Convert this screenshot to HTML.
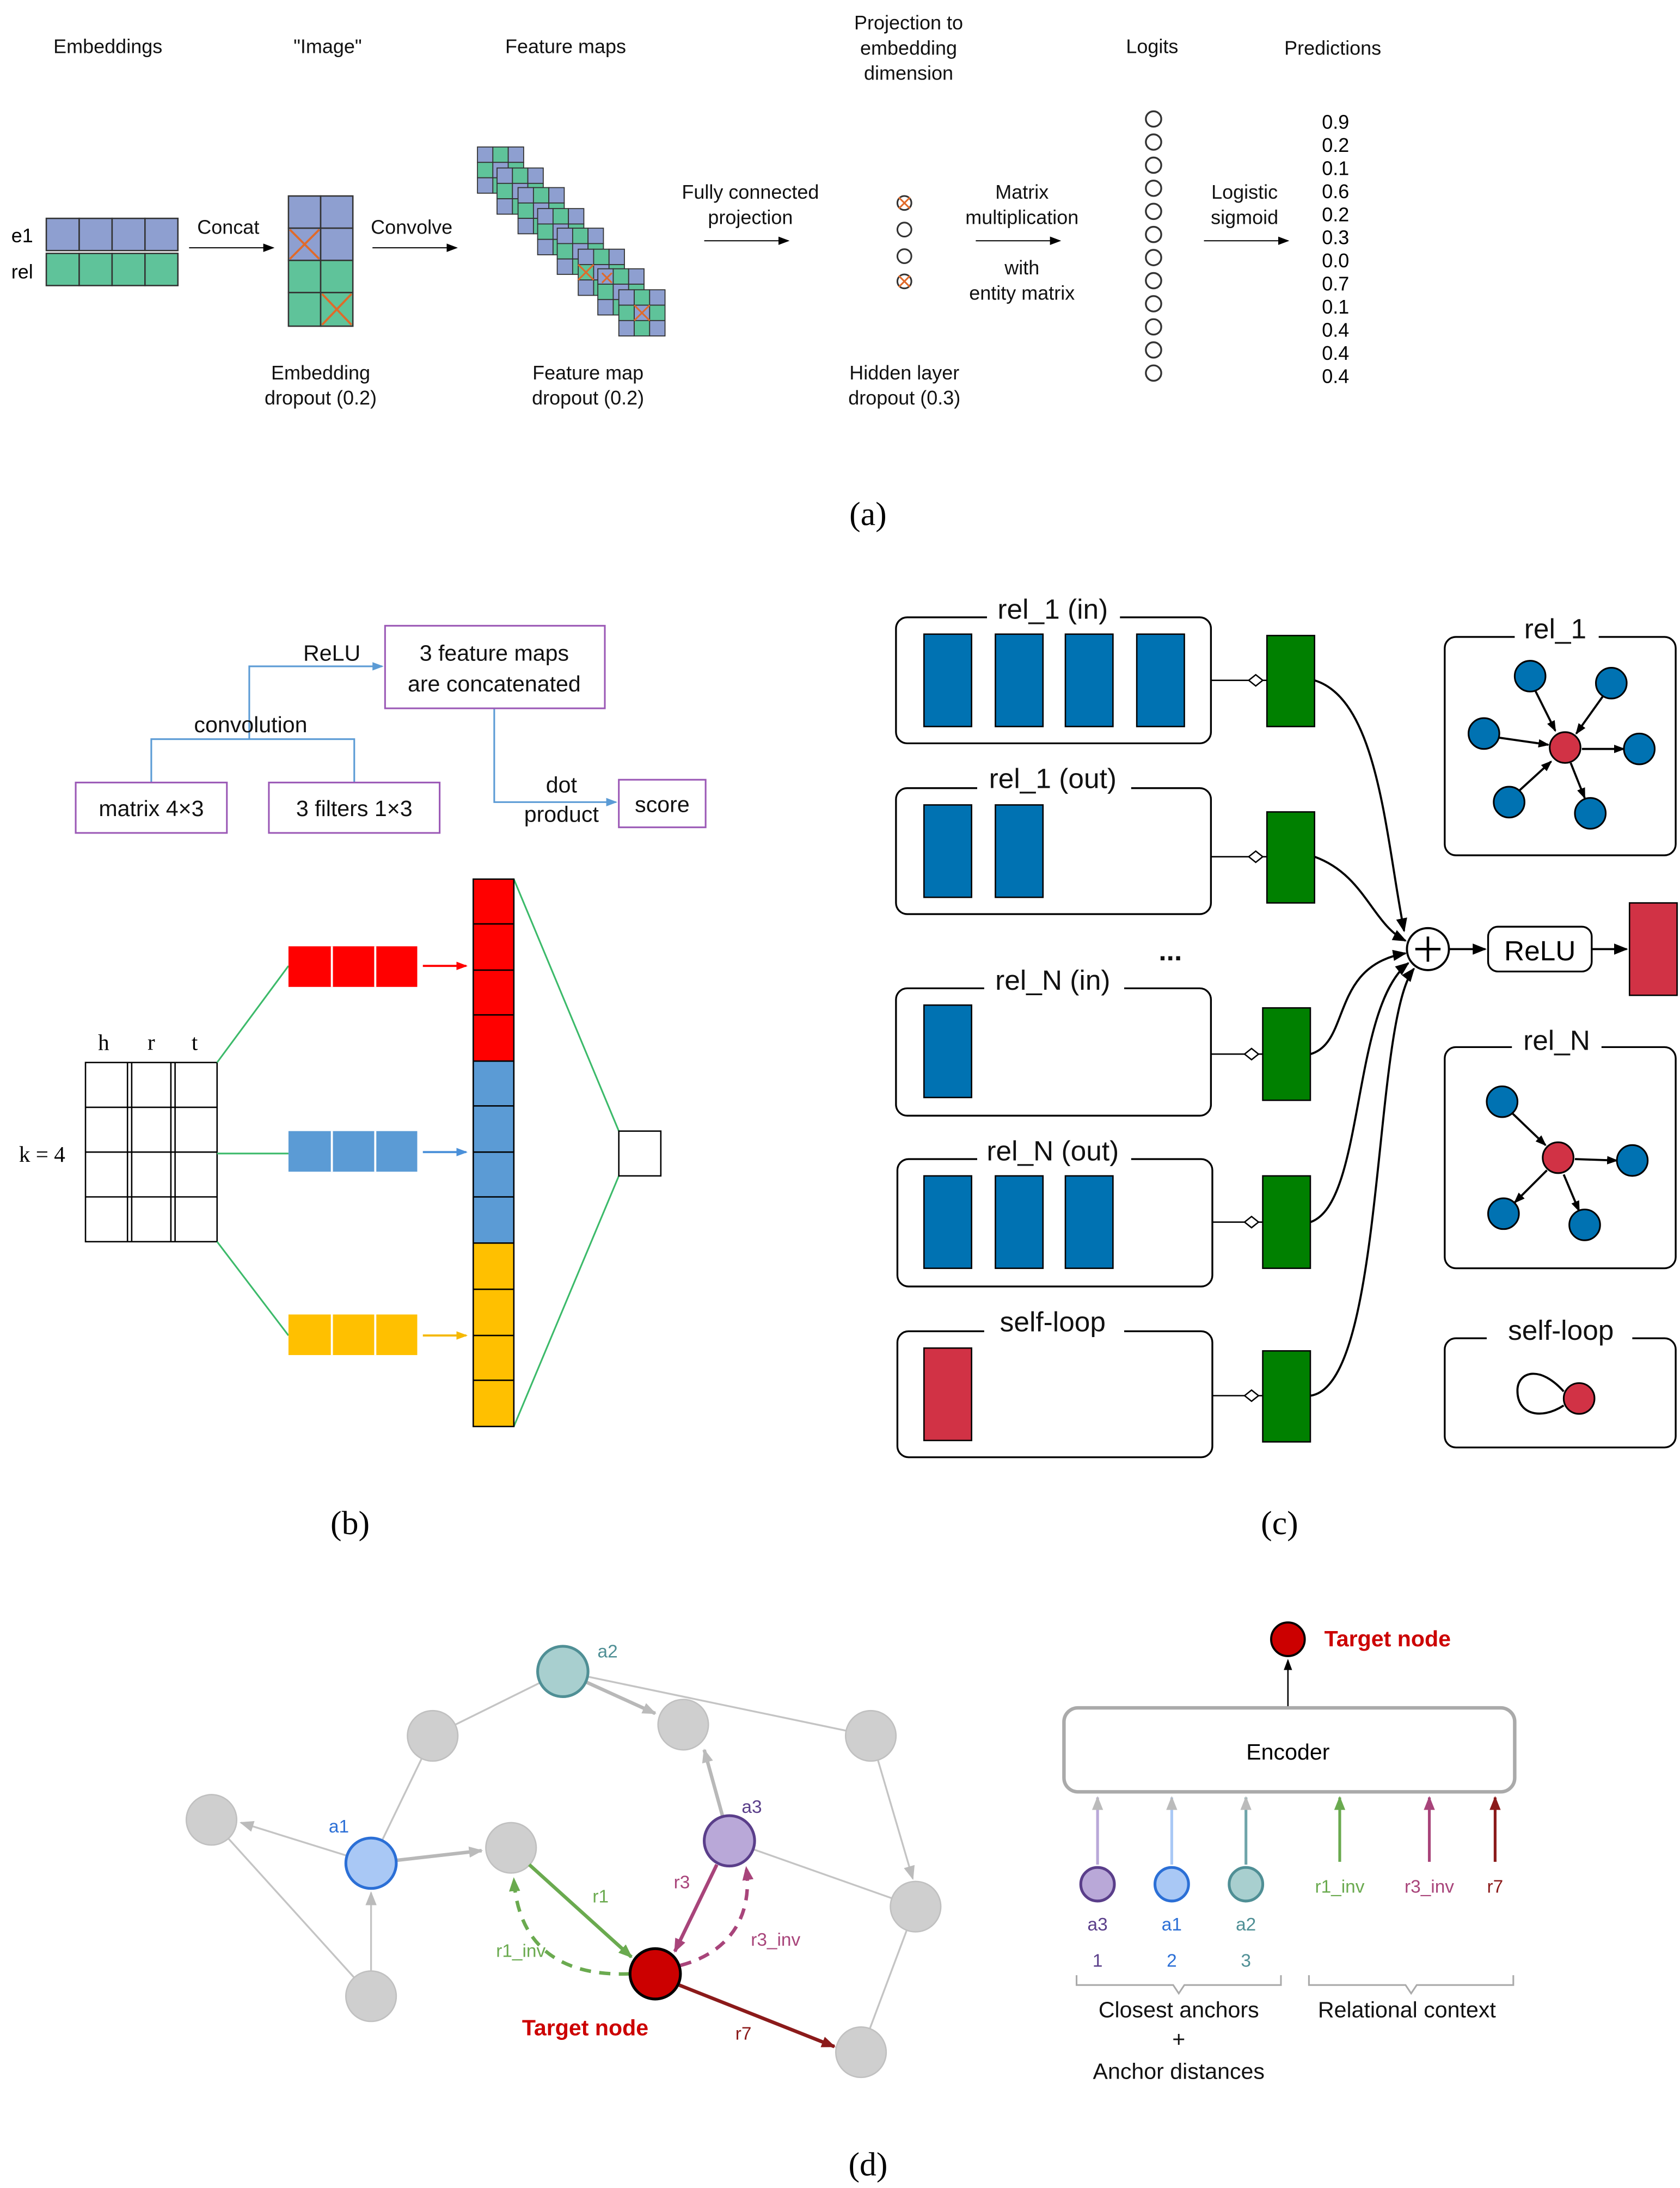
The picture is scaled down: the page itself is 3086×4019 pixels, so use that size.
<!DOCTYPE html>
<html><head><meta charset="utf-8"><style>
html,body{margin:0;padding:0;background:#fff}
svg{display:block}
text{font-family:"Liberation Sans","DejaVu Sans",sans-serif}
.s{font-family:"Liberation Serif",serif}
</style></head><body>
<svg width="3086" height="4019" viewBox="0 0 1200 1563" xmlns="http://www.w3.org/2000/svg">
<defs>
<marker id="ak" markerWidth="8" markerHeight="8" refX="7" refY="4" orient="auto" markerUnits="userSpaceOnUse"><path d="M0,1 L8,4 L0,7 z" fill="#000"/></marker>
<marker id="ab" markerWidth="10" markerHeight="10" refX="9" refY="5" orient="auto" markerUnits="userSpaceOnUse"><path d="M0,1 L10,5 L0,9 z" fill="#000"/></marker>
<marker id="abl" markerWidth="8" markerHeight="8" refX="7" refY="4" orient="auto" markerUnits="userSpaceOnUse"><path d="M0,1 L8,4 L0,7 z" fill="#5b9bd5"/></marker>
<marker id="ar" markerWidth="8" markerHeight="8" refX="7" refY="4" orient="auto" markerUnits="userSpaceOnUse"><path d="M0,1 L8,4 L0,7 z" fill="#f00"/></marker>
<marker id="abu" markerWidth="8" markerHeight="8" refX="7" refY="4" orient="auto" markerUnits="userSpaceOnUse"><path d="M0,1 L8,4 L0,7 z" fill="#4a90d9"/></marker>
<marker id="ay" markerWidth="8" markerHeight="8" refX="7" refY="4" orient="auto" markerUnits="userSpaceOnUse"><path d="M0,1 L8,4 L0,7 z" fill="#f5b800"/></marker>
<marker id="ag" markerWidth="10" markerHeight="10" refX="9" refY="5" orient="auto" markerUnits="userSpaceOnUse"><path d="M0,1 L10,5 L0,9 z" fill="#bbb"/></marker>
<marker id="agr" markerWidth="10" markerHeight="10" refX="9" refY="5" orient="auto" markerUnits="userSpaceOnUse"><path d="M0,1 L10,5 L0,9 z" fill="#6aaa4f"/></marker>
<marker id="apu" markerWidth="10" markerHeight="10" refX="9" refY="5" orient="auto" markerUnits="userSpaceOnUse"><path d="M0,1 L10,5 L0,9 z" fill="#a8447a"/></marker>
<marker id="adr" markerWidth="10" markerHeight="10" refX="9" refY="5" orient="auto" markerUnits="userSpaceOnUse"><path d="M0,1 L10,5 L0,9 z" fill="#8b1a1a"/></marker>
<g id="fm">
<rect x="0" y="0" width="11" height="11" fill="#8e9fd0" stroke="#333" stroke-width="0.7"/><rect x="11" y="0" width="11" height="11" fill="#5fc39a" stroke="#333" stroke-width="0.7"/><rect x="22" y="0" width="11" height="11" fill="#8e9fd0" stroke="#333" stroke-width="0.7"/>
<rect x="0" y="11" width="11" height="11" fill="#5fc39a" stroke="#333" stroke-width="0.7"/><rect x="11" y="11" width="11" height="11" fill="#8e9fd0" stroke="#333" stroke-width="0.7"/><rect x="22" y="11" width="11" height="11" fill="#5fc39a" stroke="#333" stroke-width="0.7"/>
<rect x="0" y="22" width="11" height="11" fill="#8e9fd0" stroke="#333" stroke-width="0.7"/><rect x="11" y="22" width="11" height="11" fill="#5fc39a" stroke="#333" stroke-width="0.7"/><rect x="22" y="22" width="11" height="11" fill="#8e9fd0" stroke="#333" stroke-width="0.7"/>
</g>
</defs>
<rect width="1200" height="1563" fill="#fff"/>

<!-- Panel a -->
<g font-size="14" fill="#111" text-anchor="middle">
<text x="77" y="38">Embeddings</text>
<text x="234" y="38">"Image"</text>
<text x="404" y="38">Feature maps</text>
<text x="649" y="21">Projection to</text><text x="649" y="39">embedding</text><text x="649" y="57">dimension</text>
<text x="823" y="38">Logits</text>
<text x="952" y="39">Predictions</text>
<text x="163" y="167">Concat</text>
<text x="294" y="167">Convolve</text>
<text x="536" y="142">Fully connected</text><text x="536" y="160">projection</text>
<text x="730" y="142">Matrix</text><text x="730" y="160">multiplication</text>
<text x="730" y="196">with</text><text x="730" y="214">entity matrix</text>
<text x="889" y="142">Logistic</text><text x="889" y="160">sigmoid</text>
<text x="229" y="271">Embedding</text><text x="229" y="289">dropout (0.2)</text>
<text x="420" y="271">Feature map</text><text x="420" y="289">dropout (0.2)</text>
<text x="646" y="271">Hidden layer</text><text x="646" y="289">dropout (0.3)</text>
</g>
<text x="8" y="173" font-size="14">e1</text>
<text x="8" y="199" font-size="14">rel</text>
<g stroke="#333" stroke-width="1">
<rect x="33" y="156" width="23.5" height="23" fill="#8e9fd0"/><rect x="56.5" y="156" width="23.5" height="23" fill="#8e9fd0"/><rect x="80" y="156" width="23.5" height="23" fill="#8e9fd0"/><rect x="103.5" y="156" width="23.5" height="23" fill="#8e9fd0"/>
<rect x="33" y="181" width="23.5" height="23" fill="#5fc39a"/><rect x="56.5" y="181" width="23.5" height="23" fill="#5fc39a"/><rect x="80" y="181" width="23.5" height="23" fill="#5fc39a"/><rect x="103.5" y="181" width="23.5" height="23" fill="#5fc39a"/>
<rect x="206" y="140" width="23" height="23" fill="#8e9fd0"/><rect x="229" y="140" width="23" height="23" fill="#8e9fd0"/>
<rect x="206" y="163" width="23" height="23" fill="#8e9fd0"/><rect x="229" y="163" width="23" height="23" fill="#8e9fd0"/>
<rect x="206" y="186" width="23" height="23" fill="#5fc39a"/><rect x="229" y="186" width="23" height="23" fill="#5fc39a"/>
<rect x="206" y="209" width="23" height="24" fill="#5fc39a"/><rect x="229" y="209" width="23" height="24" fill="#5fc39a"/>
</g>
<g stroke="#e06a2a" stroke-width="1.5"><path d="M207,164 L228,185 M228,164 L207,185"/><path d="M230,210 L251,232 M251,210 L230,232"/></g>
<g stroke="#000" stroke-width="0.8" marker-end="url(#ak)"><line x1="135" y1="177" x2="195" y2="177"/><line x1="266" y1="177" x2="326" y2="177"/><line x1="503" y1="172" x2="563" y2="172"/><line x1="697" y1="172" x2="757" y2="172"/><line x1="860" y1="172" x2="920" y2="172"/></g>
<use href="#fm" x="341" y="105"/><use href="#fm" x="355" y="120"/><use href="#fm" x="370" y="134"/><use href="#fm" x="384" y="149"/><use href="#fm" x="398" y="163"/><use href="#fm" x="413" y="178"/><use href="#fm" x="427" y="192"/><use href="#fm" x="442" y="207"/>
<g stroke="#e06a2a" stroke-width="1.2"><path d="M413,189 L424,200 M424,189 L413,200 M453,218 L464,229 M464,218 L453,229 M430,195 L437,202 M437,195 L430,202"/></g>
<g fill="#fff" stroke="#333" stroke-width="1.2">
<circle cx="646" cy="145" r="5"/><circle cx="646" cy="164" r="5"/><circle cx="646" cy="183" r="5"/><circle cx="646" cy="201" r="5"/>
</g>
<g stroke="#e06a2a" stroke-width="1.2"><path d="M642,141 L650,149 M650,141 L642,149 M642,197 L650,205 M650,197 L642,205"/></g>
<g fill="#fff" stroke="#333" stroke-width="1.3">
<circle cx="824" cy="85" r="5.5"/><circle cx="824" cy="101.5" r="5.5"/><circle cx="824" cy="118" r="5.5"/><circle cx="824" cy="134.5" r="5.5"/><circle cx="824" cy="151" r="5.5"/><circle cx="824" cy="167.5" r="5.5"/><circle cx="824" cy="184" r="5.5"/><circle cx="824" cy="200.5" r="5.5"/><circle cx="824" cy="217" r="5.5"/><circle cx="824" cy="233.5" r="5.5"/><circle cx="824" cy="250" r="5.5"/><circle cx="824" cy="266.5" r="5.5"/>
</g>
<g font-size="14" text-anchor="middle">
<text x="954" y="92">0.9</text><text x="954" y="108.5">0.2</text><text x="954" y="125">0.1</text><text x="954" y="141.5">0.6</text><text x="954" y="158">0.2</text><text x="954" y="174.5">0.3</text><text x="954" y="191">0.0</text><text x="954" y="207.5">0.7</text><text x="954" y="224">0.1</text><text x="954" y="240.5">0.4</text><text x="954" y="257">0.4</text><text x="954" y="273.5">0.4</text>
</g>
<text class="s" x="620" y="375" font-size="24" text-anchor="middle">(a)</text>

<!-- Panel b -->
<g fill="none" stroke="#5b9bd5" stroke-width="1.2">
<path d="M108,560 V528 H253 V560"/>
<path d="M178,528 V476 H273" marker-end="url(#abl)"/>
<path d="M353,506 V573 H440" marker-end="url(#abl)"/>
</g>
<g fill="#fff" stroke="#9b59b6" stroke-width="1.2">
<rect x="275" y="447" width="157" height="59"/>
<rect x="54" y="559" width="108" height="36"/>
<rect x="192" y="559" width="122" height="36"/>
<rect x="442" y="557" width="62" height="34"/>
</g>
<g font-size="16" text-anchor="middle" fill="#111">
<text x="237" y="472">ReLU</text>
<text x="353" y="472">3 feature maps</text><text x="353" y="494">are concatenated</text>
<text x="179" y="523">convolution</text>
<text x="108" y="583">matrix 4×3</text>
<text x="253" y="583">3 filters 1×3</text>
<text x="401" y="566">dot</text><text x="401" y="587">product</text>
<text x="473" y="580">score</text>
</g>
<g class="s" font-size="16" text-anchor="middle"><text class="s" x="74" y="750">h</text><text class="s" x="108" y="750">r</text><text class="s" x="139" y="750">t</text><text class="s" x="30" y="830">k = 4</text></g>
<g stroke="#000" stroke-width="1" fill="none">
<rect x="61" y="759" width="94" height="128"/>
<line x1="91" y1="759" x2="91" y2="887"/><line x1="94" y1="759" x2="94" y2="887"/>
<line x1="122" y1="759" x2="122" y2="887"/><line x1="125" y1="759" x2="125" y2="887"/>
<line x1="61" y1="791" x2="155" y2="791"/><line x1="61" y1="823" x2="155" y2="823"/><line x1="61" y1="855" x2="155" y2="855"/>
</g>
<g stroke="#3cba6a" stroke-width="1.2" fill="none">
<line x1="155" y1="759" x2="206" y2="690"/><line x1="155" y1="824" x2="206" y2="824"/><line x1="155" y1="887" x2="206" y2="954"/>
<line x1="367" y1="628" x2="442" y2="808"/><line x1="367" y1="1019" x2="442" y2="840"/>
</g>
<rect x="206" y="676" width="92" height="29" fill="#f00"/>
<rect x="206" y="808" width="92" height="29" fill="#5b9bd5"/>
<rect x="206" y="939" width="92" height="29" fill="#ffc000"/>
<g stroke="#fff" stroke-width="1.5"><line x1="237" y1="676" x2="237" y2="705"/><line x1="268" y1="676" x2="268" y2="705"/><line x1="237" y1="808" x2="237" y2="837"/><line x1="268" y1="808" x2="268" y2="837"/><line x1="237" y1="939" x2="237" y2="968"/><line x1="268" y1="939" x2="268" y2="968"/></g>
<line x1="302" y1="690" x2="333" y2="690" stroke="#f00" stroke-width="1.5" marker-end="url(#ar)"/>
<line x1="302" y1="823" x2="333" y2="823" stroke="#4a90d9" stroke-width="1.5" marker-end="url(#abu)"/>
<line x1="302" y1="954" x2="333" y2="954" stroke="#f5b800" stroke-width="1.5" marker-end="url(#ay)"/>
<rect x="338" y="628" width="29" height="130" fill="#f00"/>
<rect x="338" y="758" width="29" height="130" fill="#5b9bd5"/>
<rect x="338" y="888" width="29" height="131" fill="#ffc000"/>
<g stroke="#000" stroke-width="1" fill="none"><rect x="338" y="628" width="29" height="391"/>
<path d="M338,660 H367 M338,693 H367 M338,725 H367 M338,758 H367 M338,790 H367 M338,823 H367 M338,855 H367 M338,888 H367 M338,921 H367 M338,954 H367 M338,986 H367"/></g>
<rect x="442" y="808" width="30" height="32" fill="#fff" stroke="#000"/>
<text class="s" x="250" y="1096" font-size="24" text-anchor="middle">(b)</text>

<!-- Panel c -->
<g fill="#fff" stroke="#000" stroke-width="1.3">
<rect x="640" y="441" width="225" height="90" rx="8"/>
<rect x="640" y="563" width="225" height="90" rx="8"/>
<rect x="640" y="706" width="225" height="91" rx="8"/>
<rect x="641" y="828" width="225" height="91" rx="8"/>
<rect x="641" y="951" width="225" height="90" rx="8"/>
<rect x="1032" y="455" width="165" height="156" rx="8"/>
<rect x="1032" y="748" width="165" height="158" rx="8"/>
<rect x="1032" y="956" width="165" height="78" rx="8"/>
</g>
<g fill="#fff"><rect x="705" y="430" width="95" height="20"/><rect x="698" y="552" width="110" height="20"/><rect x="703" y="695" width="100" height="20"/><rect x="698" y="817" width="110" height="20"/><rect x="703" y="940" width="100" height="20"/><rect x="1082" y="444" width="60" height="20"/><rect x="1080" y="737" width="64" height="20"/><rect x="1062" y="945" width="104" height="20"/></g>
<g font-size="20" text-anchor="middle" fill="#111">
<text x="752" y="442">rel_1 (in)</text><text x="752" y="563">rel_1 (out)</text><text x="752" y="707">rel_N (in)</text><text x="752" y="829">rel_N (out)</text><text x="752" y="951">self-loop</text>
<text x="1111" y="456">rel_1</text><text x="1112" y="750">rel_N</text><text x="1115" y="957">self-loop</text>
<text x="1100" y="685">ReLU</text>
<text x="836" y="686" font-weight="bold">...</text>
</g>
<g fill="#0072b2" stroke="#000" stroke-width="1">
<rect x="660" y="453" width="34" height="66"/><rect x="711" y="453" width="34" height="66"/><rect x="761" y="453" width="34" height="66"/><rect x="812" y="453" width="34" height="66"/>
<rect x="660" y="575" width="34" height="66"/><rect x="711" y="575" width="34" height="66"/>
<rect x="660" y="718" width="34" height="66"/>
<rect x="660" y="840" width="34" height="66"/><rect x="711" y="840" width="34" height="66"/><rect x="761" y="840" width="34" height="66"/>
</g>
<rect x="660" y="963" width="34" height="66" fill="#d13245" stroke="#000"/>
<g fill="#008000" stroke="#000" stroke-width="1">
<rect x="905" y="454" width="34" height="65"/><rect x="905" y="580" width="34" height="65"/><rect x="902" y="720" width="34" height="66"/><rect x="902" y="840" width="34" height="66"/><rect x="902" y="965" width="34" height="65"/>
</g>
<g stroke="#000" stroke-width="1" fill="#fff">
<line x1="865" y1="486" x2="905" y2="486"/><line x1="865" y1="612" x2="905" y2="612"/><line x1="865" y1="753" x2="902" y2="753"/><line x1="866" y1="873" x2="902" y2="873"/><line x1="866" y1="997" x2="902" y2="997"/>
<path d="M892,486 l5,-4 l5,4 l-5,4z"/><path d="M892,612 l5,-4 l5,4 l-5,4z"/><path d="M889,753 l5,-4 l5,4 l-5,4z"/><path d="M889,873 l5,-4 l5,4 l-5,4z"/><path d="M889,997 l5,-4 l5,4 l-5,4z"/>
</g>
<g fill="none" stroke="#000" stroke-width="1.5">
<path d="M939,486 C985,500 990,600 1003,665" marker-end="url(#ab)"/>
<path d="M939,612 C975,625 980,660 1004,672" marker-end="url(#ab)"/>
<path d="M936,753 C965,745 950,690 1004,681" marker-end="url(#ab)"/>
<path d="M936,873 C975,860 965,720 1006,688" marker-end="url(#ab)"/>
<path d="M936,997 C990,990 980,730 1010,692" marker-end="url(#ab)"/>
<line x1="1035" y1="678" x2="1061" y2="678" marker-end="url(#ab)"/>
<line x1="1137" y1="678" x2="1162" y2="678" marker-end="url(#ab)"/>
</g>
<circle cx="1020" cy="678" r="15" fill="#fff" stroke="#000" stroke-width="1.5"/>
<path d="M1011,678 H1029 M1020,669 V687" stroke="#000" stroke-width="1.8"/>
<rect x="1063" y="662" width="74" height="32" rx="7" fill="#fff" stroke="#000" stroke-width="1.3"/>
<text x="1100" y="686" font-size="20" text-anchor="middle">ReLU</text>
<rect x="1164" y="645" width="34" height="66" fill="#d13245" stroke="#000"/>
<g stroke="#000" stroke-width="1.5" fill="none">
<line x1="1096" y1="492" x2="1111" y2="522" marker-end="url(#ak)"/>
<line x1="1146" y1="496" x2="1126" y2="524" marker-end="url(#ak)"/>
<line x1="1071" y1="527" x2="1106" y2="532" marker-end="url(#ak)"/>
<line x1="1130" y1="535" x2="1160" y2="535" marker-end="url(#ak)"/>
<line x1="1085" y1="565" x2="1108" y2="544" marker-end="url(#ak)"/>
<line x1="1122" y1="545" x2="1132" y2="570" marker-end="url(#ak)"/>
<line x1="1080" y1="795" x2="1104" y2="818" marker-end="url(#ak)"/>
<line x1="1125" y1="828" x2="1155" y2="829" marker-end="url(#ak)"/>
<line x1="1105" y1="836" x2="1082" y2="859" marker-end="url(#ak)"/>
<line x1="1117" y1="839" x2="1128" y2="865" marker-end="url(#ak)"/>
<path d="M1117,994 C1100,975 1085,980 1084,992 C1083,1010 1100,1015 1117,1004"/>
</g>
<g fill="#0072b2" stroke="#000" stroke-width="1.2">
<circle cx="1093" cy="483" r="11"/><circle cx="1151" cy="488" r="11"/><circle cx="1060" cy="524" r="11"/><circle cx="1171" cy="535" r="11"/><circle cx="1078" cy="573" r="11"/><circle cx="1136" cy="581" r="11"/>
<circle cx="1073" cy="787" r="11"/><circle cx="1166" cy="829" r="11"/><circle cx="1074" cy="867" r="11"/><circle cx="1132" cy="875" r="11"/>
</g>
<g fill="#d13245" stroke="#000" stroke-width="1.2"><circle cx="1118" cy="534" r="11"/><circle cx="1113" cy="827" r="11"/><circle cx="1128" cy="999" r="11"/></g>
<text class="s" x="914" y="1096" font-size="24" text-anchor="middle">(c)</text>

<!-- Panel d -->
<g stroke="#c4c4c4" stroke-width="1.3" fill="none">
<line x1="309" y1="1240" x2="402" y2="1194"/>
<line x1="402" y1="1194" x2="622" y2="1240"/>
<line x1="309" y1="1240" x2="265" y2="1331"/>
<line x1="265" y1="1331" x2="172" y2="1302" marker-end="url(#ag)"/>
<line x1="151" y1="1300" x2="265" y2="1426"/>
<line x1="265" y1="1426" x2="265" y2="1352" marker-end="url(#ag)"/>
<line x1="521" y1="1315" x2="654" y2="1362"/>
<line x1="622" y1="1240" x2="652" y2="1342" marker-end="url(#ag)"/>
<line x1="654" y1="1362" x2="615" y2="1466"/>
</g>
<g stroke="#b8b8b8" stroke-width="2.5" fill="none">
<line x1="402" y1="1194" x2="468" y2="1224" marker-end="url(#ag)"/>
<line x1="265" y1="1331" x2="344" y2="1322" marker-end="url(#ag)"/>
<line x1="521" y1="1315" x2="503" y2="1250" marker-end="url(#ag)"/>
</g>
<g fill="#cfcfcf" stroke="#c0c0c0" stroke-width="1">
<circle cx="309" cy="1240" r="18"/><circle cx="488" cy="1232" r="18"/><circle cx="622" cy="1240" r="18"/><circle cx="151" cy="1300" r="18"/><circle cx="365" cy="1320" r="18"/><circle cx="654" cy="1362" r="18"/><circle cx="265" cy="1426" r="18"/><circle cx="615" cy="1466" r="18"/>
</g>
<g fill="none" stroke-width="2.5">
<line x1="378" y1="1332" x2="451" y2="1398" stroke="#6aaa4f" marker-end="url(#agr)"/>
<path d="M450,1410 C400,1412 370,1390 367,1342" stroke="#6aaa4f" stroke-dasharray="8,6" marker-end="url(#agr)"/>
<line x1="512" y1="1332" x2="482" y2="1394" stroke="#a8447a" marker-end="url(#apu)"/>
<path d="M486,1404 C520,1395 538,1370 533,1334" stroke="#a8447a" stroke-dasharray="8,6" marker-end="url(#apu)"/>
<line x1="485" y1="1418" x2="596" y2="1462" stroke="#8b1a1a" marker-end="url(#adr)"/>
</g>
<circle cx="402" cy="1194" r="18" fill="#a8cfcf" stroke="#4f8f95" stroke-width="2"/>
<circle cx="265" cy="1331" r="18" fill="#a9c8f5" stroke="#2b6fd6" stroke-width="2"/>
<circle cx="521" cy="1315" r="18" fill="#b9a8d8" stroke="#5a3e8a" stroke-width="2"/>
<circle cx="468" cy="1410" r="18" fill="#cc0000" stroke="#000" stroke-width="2"/>
<g font-size="13" text-anchor="middle">
<text x="434" y="1184" fill="#4f8f95">a2</text>
<text x="242" y="1309" fill="#2b6fd6">a1</text>
<text x="537" y="1295" fill="#5a3e8a">a3</text>
<text x="429" y="1359" fill="#6aaa4f">r1</text>
<text x="372" y="1398" fill="#6aaa4f">r1_inv</text>
<text x="487" y="1349" fill="#a8447a">r3</text>
<text x="554" y="1390" fill="#a8447a">r3_inv</text>
<text x="531" y="1457" fill="#8b1a1a">r7</text>
</g>
<text x="418" y="1454" font-size="16" font-weight="bold" fill="#cc0000" text-anchor="middle">Target node</text>

<circle cx="920" cy="1171" r="12" fill="#cc0000" stroke="#000" stroke-width="1.5"/>
<text x="946" y="1176" font-size="16" font-weight="bold" fill="#cc0000">Target node</text>
<line x1="920" y1="1220" x2="920" y2="1186" stroke="#000" stroke-width="1" marker-end="url(#ak)"/>
<rect x="760" y="1220" width="322" height="60" rx="10" fill="#fff" stroke="#aaa" stroke-width="2.5"/>
<text x="920" y="1257" font-size="16" text-anchor="middle">Encoder</text>
<g stroke-width="2">
<line x1="784" y1="1332" x2="784" y2="1284" stroke="#b9a8d8" marker-end="url(#ag)"/>
<line x1="837" y1="1332" x2="837" y2="1284" stroke="#a9c8f5" marker-end="url(#ag)"/>
<line x1="890" y1="1332" x2="890" y2="1284" stroke="#6fa5aa" marker-end="url(#ag)"/>
<line x1="957" y1="1330" x2="957" y2="1284" stroke="#6aaa4f" marker-end="url(#agr)"/>
<line x1="1021" y1="1330" x2="1021" y2="1284" stroke="#a8447a" marker-end="url(#apu)"/>
<line x1="1068" y1="1330" x2="1068" y2="1284" stroke="#8b1a1a" marker-end="url(#adr)"/>
</g>
<circle cx="784" cy="1346" r="12" fill="#b9a8d8" stroke="#5a3e8a" stroke-width="2"/>
<circle cx="837" cy="1346" r="12" fill="#a9c8f5" stroke="#2b6fd6" stroke-width="2"/>
<circle cx="890" cy="1346" r="12" fill="#a8cfcf" stroke="#4f8f95" stroke-width="2"/>
<g font-size="13" text-anchor="middle">
<text x="784" y="1379" fill="#5a3e8a">a3</text><text x="837" y="1379" fill="#2b6fd6">a1</text><text x="890" y="1379" fill="#4f8f95">a2</text>
<text x="784" y="1405" fill="#5a3e8a">1</text><text x="837" y="1405" fill="#2b6fd6">2</text><text x="890" y="1405" fill="#4f8f95">3</text>
<text x="957" y="1352" fill="#6aaa4f">r1_inv</text><text x="1021" y="1352" fill="#a8447a">r3_inv</text><text x="1068" y="1352" fill="#8b1a1a">r7</text>
</g>
<g fill="none" stroke="#aaa" stroke-width="1.2">
<path d="M769,1411 V1418 H838 L842,1424 L846,1418 H915 V1411"/>
<path d="M935,1411 V1418 H1004 L1008,1424 L1012,1418 H1081 V1411"/>
</g>
<g font-size="16" text-anchor="middle" fill="#111">
<text x="842" y="1441">Closest anchors</text><text x="842" y="1462">+</text><text x="842" y="1485">Anchor distances</text>
<text x="1005" y="1441">Relational context</text>
</g>
<text class="s" x="620" y="1554" font-size="24" text-anchor="middle">(d)</text>
</svg>
</body></html>
